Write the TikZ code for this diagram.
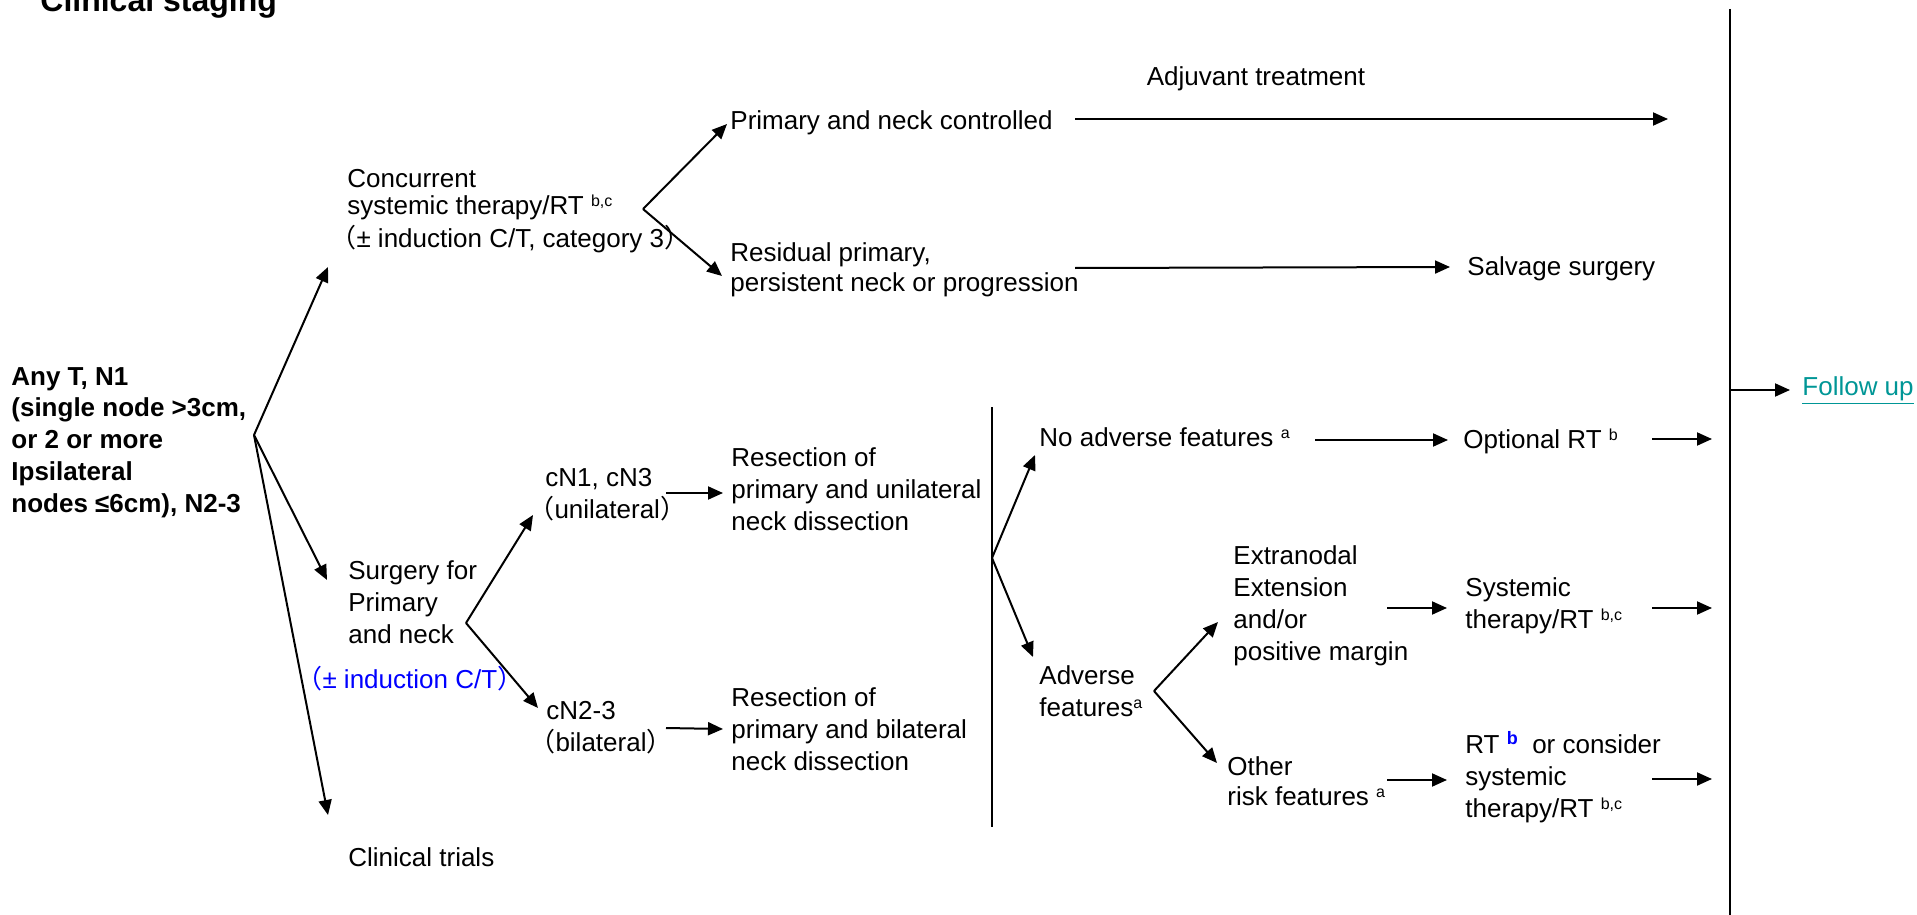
\documentclass[tikz,border=0pt]{standalone}
\usepackage{fontspec}
\setmainfont{Liberation Sans}
\newfontfamily\cjk{Noto Sans CJK SC}
\usetikzlibrary{arrows.meta}
\definecolor{linkteal}{RGB}{0,150,150}
\definecolor{noteblue}{RGB}{0,0,255}
% small raised footnote letters
\newcommand\supr[1]{\raisebox{4pt}{\fontsize{8pt}{8pt}\selectfont #1}}
\newcommand\supb[1]{\raisebox{4.5pt}{\fontsize{9pt}{9pt}\selectfont\bfseries\color{noteblue}#1}}
% full-width parentheses
\newcommand\fwl{\kern-0.65em{\cjk （}}
\newcommand\fwr{{\cjk ）}}
\begin{document}
\begin{tikzpicture}[x=0.5pt,y=-0.5pt,
  % multi-line blocks are placed by the baseline of their last line
  txt/.style={anchor=base west,inner sep=0pt,align=left,font=\fontsize{13pt}{16pt}\selectfont},
  boldtxt/.style={txt,font=\bfseries\fontsize{13pt}{15.85pt}\selectfont},
  arr/.style={line width=1pt,-{Triangle[length=7.5pt,width=6.5pt]}},
  bar/.style={line width=1.2pt}]
\useasboundingbox (0,0) rectangle (1917,915);

% ---------- text blocks ----------
\node[txt,font=\bfseries\fontsize{16pt}{18pt}\selectfont] (title) at (40,12) {Clinical staging};
\node[boldtxt] (start) at (11,512) {Any T, N1\\(single node >3cm,\\or 2 or more\\Ipsilateral\\nodes ≤6cm), N2-3};

\node[txt,font=\fontsize{13pt}{13.5pt}\selectfont] (conc) at (347,247) {Concurrent\\systemic therapy/RT \supr{b,c}\\[1.5pt]\fwl± induction C/T, category 3\fwr};
\node[txt] (pnc) at (730,130) {Primary and neck controlled};
\node[txt,anchor=base] (adj) at (1256,86) {Adjuvant treatment};
\node[txt,font=\fontsize{13pt}{15pt}\selectfont] (resid) at (730,291) {Residual primary,\\persistent neck or progression};
\node[txt] (salv) at (1467,275) {Salvage surgery};

\node[txt] (surg) at (348,643) {Surgery for\\Primary\\and neck};
\node[txt,text=noteblue] (indc) at (313,688) {\fwl± induction C/T\fwr};
\node[txt] (trials) at (348,866) {Clinical trials};

\node[txt] (cn1) at (545,518) {cN1, cN3\\\fwl unilateral\fwr};
\node[txt] (cn2) at (546,751) {cN2-3\\\fwl bilateral\fwr};
\node[txt] (res1) at (731,530) {Resection of\\primary and unilateral\\neck dissection};
\node[txt] (res2) at (731,770) {Resection of\\primary and bilateral\\neck dissection};

\node[txt] (noadv) at (1039,446) {No adverse features \supr{a}};
\node[txt] (adv) at (1039,716) {Adverse\\features\supr{a}};
\node[txt] (extra) at (1233,660) {Extranodal\\Extension\\and/or\\positive margin};
\node[txt,font=\fontsize{13pt}{15pt}\selectfont] (other) at (1227,805) {Other\\risk features \supr{a}};

\node[txt] (optrt) at (1463,448) {Optional RT \supr{b}};
\node[txt] (sys) at (1465,628) {Systemic\\therapy/RT \supr{b,c}};
\node[txt] (rtb) at (1465,817) {RT \supb{b}\ \ or consider\\systemic\\therapy/RT \supr{b,c}};

\node[txt,text=linkteal] (follow) at (1802,395) {\underline{Follow up}};

% ---------- branch points and arrow ends ----------
\coordinate (v0) at (254,435);
\coordinate (t-conc) at (328,267);
\coordinate (t-surg) at (327,580);
\coordinate (t-trials) at (328,815);

\coordinate (v1) at (643,209);
\coordinate (t-pnc) at (727,124);
\coordinate (t-resid) at (722,276);

\coordinate (v2) at (466,623);
\coordinate (t-cn1) at (533,515);
\coordinate (t-cn2) at (538,708);

\coordinate (v3) at (992,558);
\coordinate (t-noadv) at (1035,455);
\coordinate (t-adv) at (1033,657);

\coordinate (v4) at (1154,691);
\coordinate (t-extra) at (1218,622);
\coordinate (t-other) at (1217,763);

\coordinate (sep-top) at (992,407);
\coordinate (sep-bot) at (992,827);
\coordinate (bar-top) at (1730,9);
\coordinate (bar-bot) at (1730,915);
\coordinate (bar-mid) at (1730,390);

% ---------- connectors ----------
\draw[arr] (v0) -- (t-conc);
\draw[arr] (v0) -- (t-surg);
\draw[arr] (v0) -- (t-trials);

\draw[arr] (v1) -- (t-pnc);
\draw[arr] (v1) -- (t-resid);
\draw[arr] (1075,119) -- (1668,119);
\draw[arr] (1075,268) -- (1450,267);

\draw[arr] (v2) -- (t-cn1);
\draw[arr] (v2) -- (t-cn2);
\draw[arr] (666,493) -- (723,493);
\draw[arr] (666,728) -- (723,729);

\draw[line width=1pt] (sep-top) -- (sep-bot);
\draw[arr] (v3) -- (t-noadv);
\draw[arr] (v3) -- (t-adv);
\draw[arr] (1315,440) -- (1448,440);

\draw[arr] (v4) -- (t-extra);
\draw[arr] (v4) -- (t-other);
\draw[arr] (1387,608) -- (1447,608);
\draw[arr] (1387,780) -- (1447,780);

\draw[arr] (1652,439) -- (1712,439);
\draw[arr] (1652,608) -- (1712,608);
\draw[arr] (1652,779) -- (1712,779);

\draw[bar] (bar-top) -- (bar-bot);
\draw[arr,shorten >=6pt] (bar-mid) -- (bar-mid -| follow.west);
\end{tikzpicture}
\end{document}
